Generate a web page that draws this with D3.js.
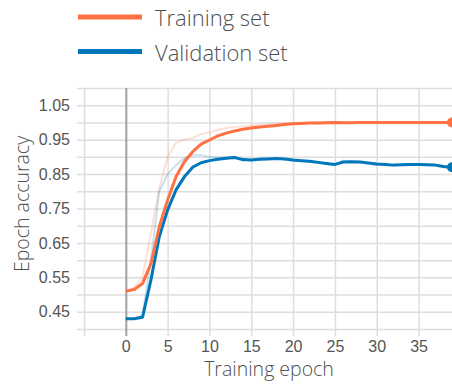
<!DOCTYPE html>
<html>
<head>
<meta charset="utf-8">
<script src="https://cdn.jsdelivr.net/npm/d3@7"></script>
<style>
  body { margin: 0; background: #fff; }
  svg { display: block; }
</style>
</head>
<body>
<svg id="chart" width="452" height="385"></svg>
<script>
// epochs 0..39
const epochs = d3.range(0, 40);

// smoothed curves (bold lines)
const trainSmooth = [0.510, 0.515, 0.532, 0.590, 0.697, 0.775, 0.842, 0.886, 0.915, 0.937,
  0.949, 0.961, 0.969, 0.975, 0.980, 0.984, 0.987, 0.989, 0.991, 0.994,
  0.996, 0.997, 0.998, 0.998, 0.999, 1.000, 0.999, 0.999, 1.000, 1.000,
  1.000, 1.000, 1.000, 1.000, 1.000, 1.000, 1.000, 1.000, 1.000, 1.000];
const valSmooth = [0.430, 0.430, 0.434, 0.542, 0.668, 0.746, 0.804, 0.842, 0.870, 0.883,
  0.889, 0.893, 0.896, 0.898, 0.892, 0.891, 0.893, 0.894, 0.895, 0.894,
  0.891, 0.889, 0.887, 0.884, 0.881, 0.878, 0.885, 0.886, 0.885, 0.882,
  0.879, 0.878, 0.876, 0.877, 0.878, 0.878, 0.877, 0.876, 0.872, 0.870];

// raw curves (faint lines)
const trainRaw = [0.510, 0.520, 0.550, 0.680, 0.810, 0.900, 0.940, 0.950, 0.955, 0.966,
  0.971, 0.978, 0.984, 0.987, 0.989, 0.991, 0.993, 0.994, 0.996, 0.998,
  0.998, 0.999, 0.999, 1.000, 1.000, 1.000, 0.999, 1.000, 1.000, 1.000,
  1.000, 1.000, 1.000, 1.000, 1.000, 1.000, 1.000, 1.000, 1.000, 1.000];
const valRaw = [0.430, 0.430, 0.440, 0.600, 0.800, 0.850, 0.876, 0.896, 0.905, 0.905,
  0.900, 0.898, 0.899, 0.899, 0.889, 0.891, 0.895, 0.895, 0.895, 0.893,
  0.889, 0.888, 0.885, 0.882, 0.879, 0.876, 0.889, 0.886, 0.884, 0.880,
  0.877, 0.877, 0.875, 0.878, 0.879, 0.878, 0.876, 0.875, 0.869, 0.868];

const seriesNames = ["Training set", "Validation set"];
const seriesColors = ["#ff7043", "#0077bb"];

const xTickLabels = [0, 5, 10, 15, 20, 25, 30, 35];
const xGrid = [-5, 0, 5, 10, 15, 20, 25, 30, 35];
const yTickLabels = [0.45, 0.55, 0.65, 0.75, 0.85, 0.95, 1.05];
const yGrid = d3.range(0, 15).map(i => +(0.40 + i * 0.05).toFixed(2));

const svg = d3.select("#chart");
const plotLeft = 84, plotRight = 452, plotTop = 88, plotBottom = 329;

const x = d3.scaleLinear().domain([-5, 39]).range([plotLeft, plotRight]);
const y = d3.scaleLinear().domain([0.40, 1.10]).range([plotBottom, plotTop]);

// horizontal grid
svg.append("g")
  .attr("transform", `translate(${plotLeft},0)`)
  .call(d3.axisLeft(y).tickValues(yGrid).tickSize(0).tickFormat(""))
  .call(g => g.select(".domain").remove())
  .call(g => g.selectAll("line").attr("stroke", "#dedede").attr("stroke-width", 1.5)
    .attr("x1", -7).attr("x2", plotRight - plotLeft + 6));

// vertical grid
svg.append("g")
  .attr("transform", `translate(0,${plotBottom})`)
  .call(d3.axisBottom(x).tickValues(xGrid).tickSize(0).tickFormat(""))
  .call(g => g.select(".domain").remove())
  .call(g => g.selectAll("line")
    .attr("y1", 7).attr("y2", plotTop - plotBottom)
    .attr("stroke", d => d === 0 ? "#a0a0a0" : "#dedede")
    .attr("stroke-width", d => d === 0 ? 2 : 1.5));

// y tick labels
svg.append("g")
  .attr("transform", `translate(${plotLeft},0)`)
  .call(d3.axisLeft(y).tickValues(yTickLabels).tickSize(0).tickPadding(14)
    .tickFormat(d3.format(".2f")))
  .call(g => g.select(".domain").remove())
  .call(g => g.selectAll("text").attr("fill", "#555")
    .style("font", "16px 'Liberation Sans', Arial, sans-serif"));

// x tick labels
svg.append("g")
  .attr("transform", `translate(0,${plotBottom})`)
  .call(d3.axisBottom(x).tickValues(xTickLabels).tickSize(0).tickPadding(12))
  .call(g => g.select(".domain").remove())
  .call(g => g.selectAll("text").attr("fill", "#555")
    .style("font", "16px 'Liberation Sans', Arial, sans-serif"));

// axis titles
svg.append("text")
  .attr("x", 269).attr("y", 376)
  .attr("text-anchor", "middle")
  .attr("fill", "#505050")
  .style("font", "300 19.5px 'Open Sans', 'Noto Sans', sans-serif")
  .text("Training epoch");

svg.append("text")
  .attr("transform", "translate(29,204) rotate(-90)")
  .attr("text-anchor", "middle")
  .attr("fill", "#505050")
  .style("font", "300 19.5px 'Open Sans', 'Noto Sans', sans-serif")
  .text("Epoch accuracy");

const line = d3.line().x((d, i) => x(epochs[i])).y(d => y(d));

const rawSets = [trainRaw, valRaw];
const smoothSets = [trainSmooth, valSmooth];

const plot = svg.append("g");
rawSets.forEach((vals, k) => {
  plot.append("path")
    .attr("d", line(vals))
    .attr("fill", "none")
    .attr("stroke", seriesColors[k])
    .attr("stroke-opacity", 0.22)
    .attr("stroke-width", 2);
});
[1, 0].forEach(k => {
  const vals = smoothSets[k];
  plot.append("path")
    .attr("d", line(vals))
    .attr("fill", "none")
    .attr("stroke", seriesColors[k])
    .attr("stroke-width", 3)
    .attr("stroke-linejoin", "round");
  plot.append("circle")
    .attr("cx", x(epochs[epochs.length - 1]))
    .attr("cy", y(vals[vals.length - 1]))
    .attr("r", 5)
    .attr("fill", seriesColors[k]);
});

// legend
const legend = svg.append("g");
seriesNames.forEach((name, i) => {
  const ly = 17 + i * 34.5;
  legend.append("line")
    .attr("x1", 78).attr("x2", 142)
    .attr("y1", ly).attr("y2", ly)
    .attr("stroke", seriesColors[i])
    .attr("stroke-width", 5);
  legend.append("text")
    .attr("x", 155).attr("y", ly + 9)
    .attr("fill", "#505050")
    .style("font", "300 22px 'Open Sans', 'Noto Sans', sans-serif")
    .text(name);
});
</script>
</body>
</html>
